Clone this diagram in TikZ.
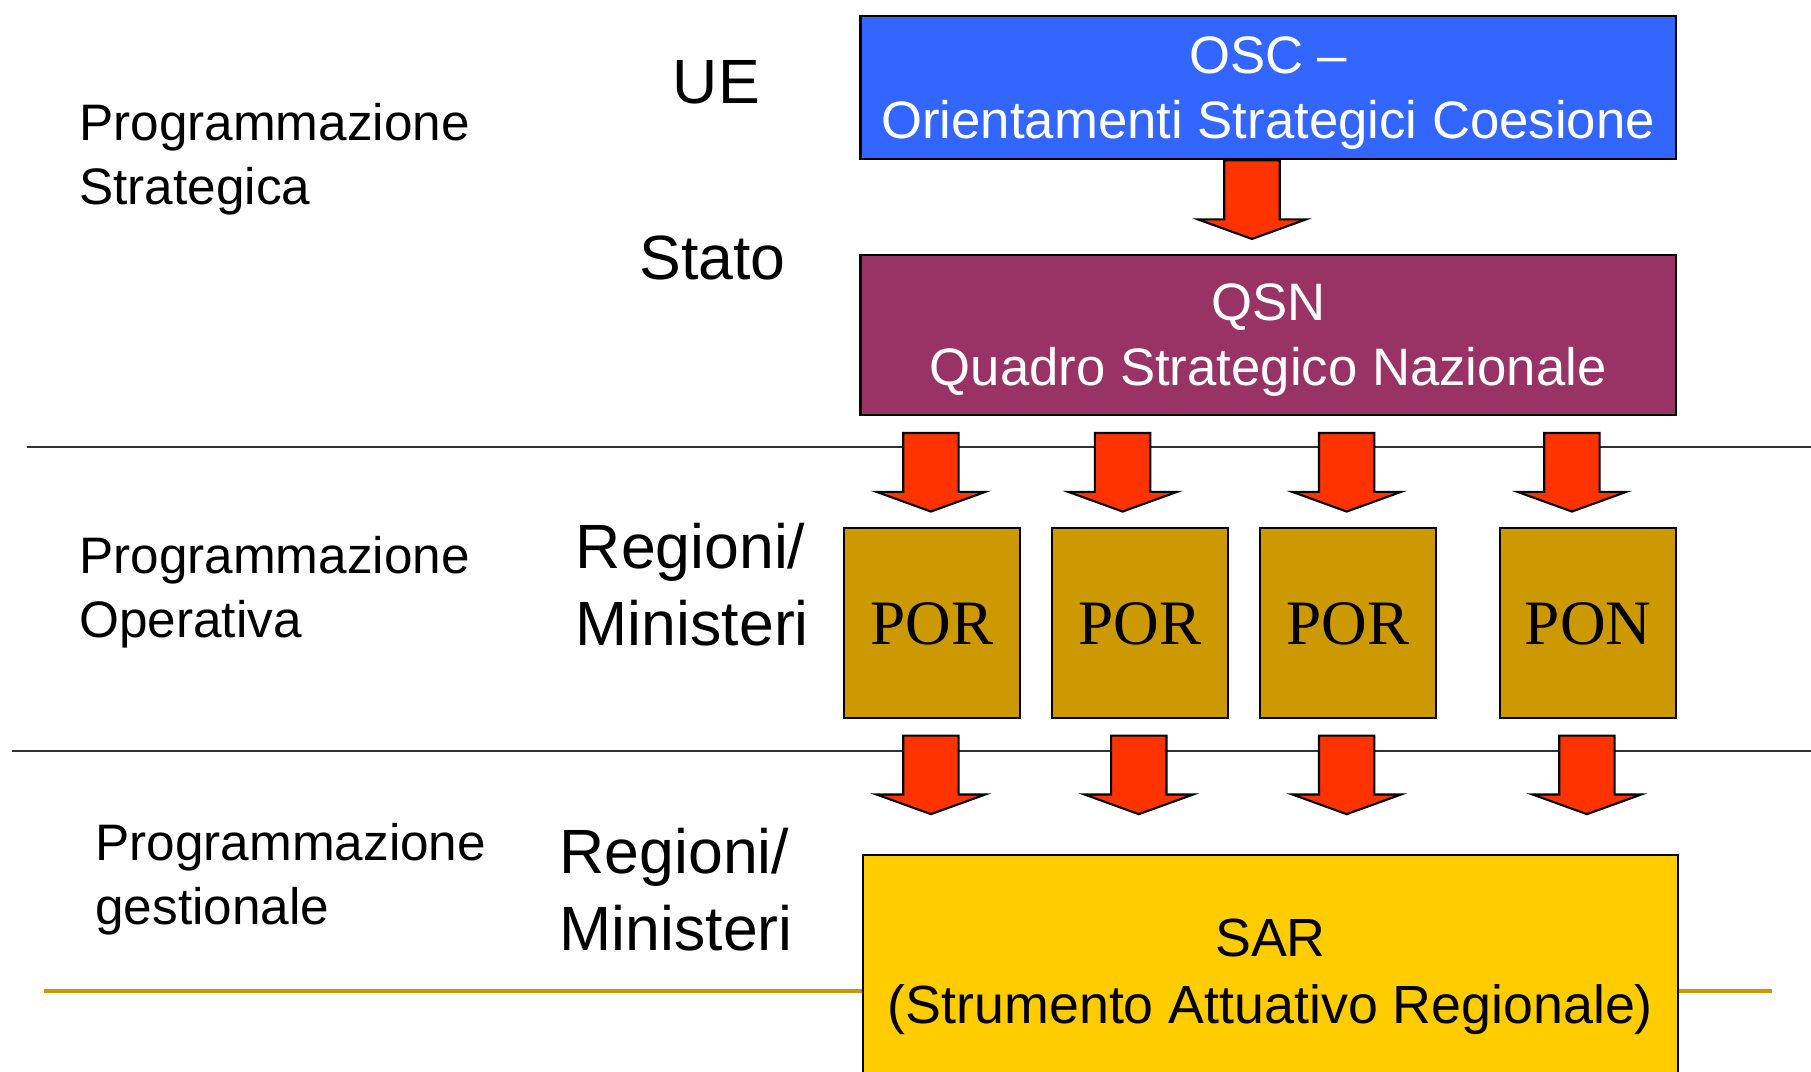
\documentclass[tikz,border=0pt]{standalone}
\usepackage{fontspec}
\setmainfont{Liberation Sans}
\newfontfamily\porfont{Liberation Serif}
\usetikzlibrary{calc}
\definecolor{oscblue}{HTML}{3366FF}
\definecolor{qsnpurple}{HTML}{993366}
\definecolor{porgold}{HTML}{CC9900}
\definecolor{saryellow}{HTML}{FFCC00}
\definecolor{arrowred}{HTML}{FF3300}

\begin{document}
\begin{tikzpicture}[x=0.01155cm, y=0.01155cm,
  box/.style={draw=black, line width=0.6pt, inner sep=0pt, align=center, text depth=0pt, font=\fontsize{15}{18.5}\selectfont},
  progbox/.style={box, fill=porgold, minimum width=1.756cm, minimum height=1.906cm, font=\porfont\fontsize{18}{20}\selectfont},
  level/.style={anchor=west, inner sep=0pt, align=left, font=\fontsize{17.8}{22}\selectfont},
  phase/.style={anchor=west, inner sep=0pt, align=left, font=\fontsize{14.6}{18.2}\selectfont},
  blockarrow/.style={draw=black, line width=0.6pt, fill=arrowred}]

\useasboundingbox (0,0) rectangle (1568,-928);

% Separators
\draw[line width=0.6pt, black!80] (23,-387) -- (1568,-387);
\draw[line width=0.6pt, black!80] (10,-650) -- (1568,-650);
\draw[line width=1pt, porgold] (38,-858) -- (1534,-858);

% Boxes
\node[box, fill=oscblue, text=white, minimum width=8.154cm, minimum height=1.432cm] (osc) at (1098,-76) {OSC –\\Orientamenti Strategici Coesione};
\node[box, fill=qsnpurple, text=white, minimum width=8.154cm, minimum height=1.594cm] (qsn) at (1098,-290) {QSN\\Quadro Strategico Nazionale};
\node[progbox] (por1) at (807,-539.5) {POR};
\node[progbox] (por2) at (987,-539.5) {POR};
\node[progbox] (por3) at (1167,-539.5) {POR};
\node[progbox] (pon) at (1375,-539.5) {PON};
\node[box, fill=saryellow, minimum width=8.154cm, minimum height=2.33cm, anchor=north, font=\fontsize{15.3}{19}\selectfont] (sar) at (1100,-739) {SAR\\(Strumento Attuativo Regionale)};

% Level labels
\node[phase] (strat) at (68,-138) {Programmazione\\Strategica};
\node[phase] (oper) at (68,-513) {Programmazione\\Operativa};
\node[phase] (gest) at (82,-761) {Programmazione\\gestionale};
\node[level] (ue) at (582,-71) {UE};
\node[level] (stato) at (553,-223) {Stato};
\node[level] (reg1) at (498,-506) {Regioni/\\Ministeri};
\node[level] (reg2) at (484,-770) {Regioni/\\Ministeri};

% Block arrows
\coordinate (a0) at ($(osc.south)+(-14,0)$);
\coordinate (a1) at ($(qsn.south -| por1)+(-1,-15)$);
\coordinate (a2) at ($(qsn.south -| por2)+(-15,-15)$);
\coordinate (a3) at ($(qsn.south -| por3)+(-1,-15)$);
\coordinate (a4) at ($(qsn.south -| pon)+(-14,-15)$);
\coordinate (b1) at ($(por1.south)+(-1,-14)$);
\coordinate (b2) at ($(por2.south)+(-1,-14)$);
\coordinate (b3) at ($(por3.south)+(-1,-14)$);
\coordinate (b4) at ($(pon.south)+(-1,-14)$);
\foreach \s in {a0,a1,a2,a3,a4,b1,b2,b3,b4}
  \draw[blockarrow, shift={(\s)}] (-24,0) -- (24,0) -- (24,-51) -- (47,-51) -- (0,-68) -- (-47,-51) -- (-24,-51) -- cycle;

\end{tikzpicture}
\end{document}
